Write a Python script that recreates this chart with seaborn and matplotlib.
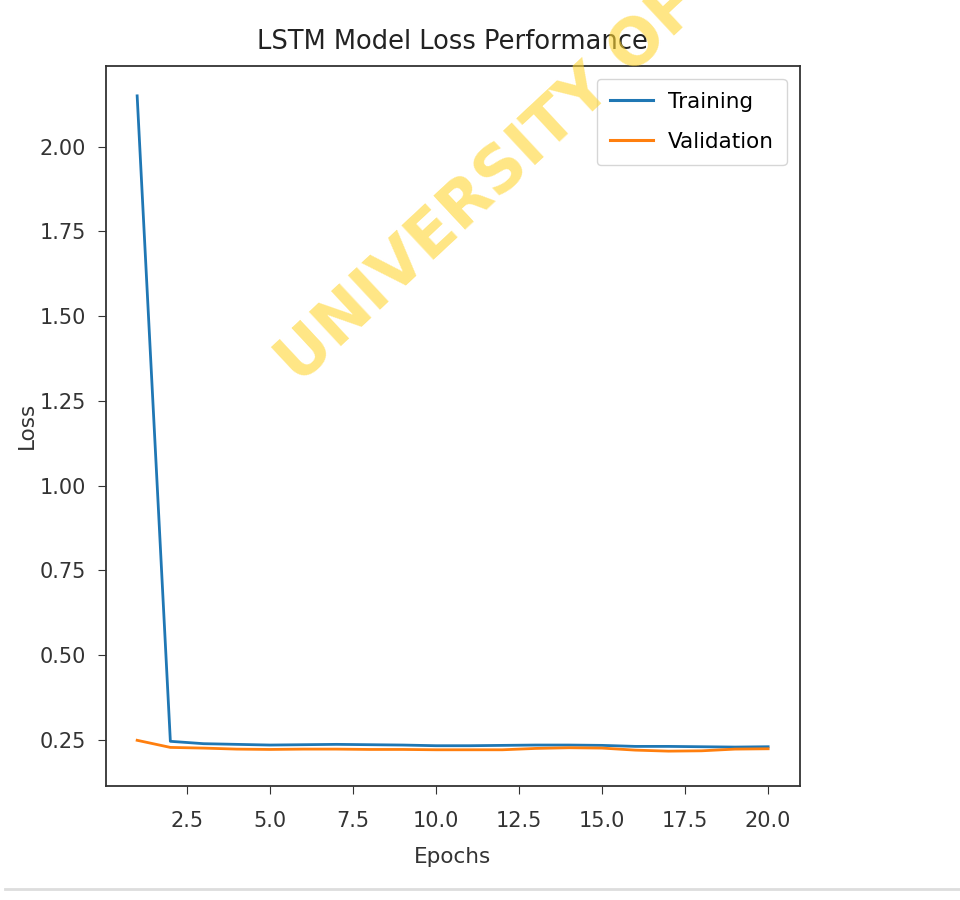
import numpy as np
import pandas as pd
import seaborn as sns
import matplotlib.pyplot as plt
from matplotlib.lines import Line2D


epochs = list(range(1, 21))
train_loss = [2.15, 0.245, 0.238, 0.236, 0.234, 0.235, 0.236, 0.235, 0.234, 0.232,
              0.232, 0.233, 0.234, 0.234, 0.233, 0.230, 0.230, 0.229, 0.228, 0.229]
val_loss = [0.248, 0.227, 0.225, 0.222, 0.221, 0.222, 0.222, 0.221, 0.221, 0.220,
            0.220, 0.220, 0.224, 0.226, 0.225, 0.219, 0.216, 0.217, 0.222, 0.223]
series_names = ['Training', 'Validation']

df = pd.DataFrame({
    'Epochs': epochs * 2,
    'Loss': train_loss + val_loss,
    'set': [series_names[0]] * 20 + [series_names[1]] * 20,
})

fig = plt.figure(figsize=(9.6, 9), dpi=100)
ax = fig.add_axes([0.110, 0.127, 0.723, 0.800])

sns.lineplot(data=df, x='Epochs', y='Loss', hue='set',
             palette=['#1f77b4', '#ff7f0e'], linewidth=2, ax=ax)

ax.set_title('LSTM Model Loss Performance', fontsize=18.5, color='#222222', pad=12)
ax.set_xlabel('Epochs', fontsize=15.5, color='#333333', labelpad=12)
ax.set_ylabel('Loss', fontsize=15.5, color='#333333', labelpad=2)
ax.tick_params(labelsize=15, colors='#333333', length=6)
ax.tick_params(axis='x', pad=12)
ax.tick_params(axis='y', pad=8)
ax.set_yticks([0.25, 0.5, 0.75, 1.0, 1.25, 1.5, 1.75, 2.0])
ax.set_ylim(0.114, 2.239)
for s in ax.spines.values():
    s.set_color('#333333')
    s.set_linewidth(1.3)

leg = ax.legend(loc='upper right', fontsize=15.5, frameon=True, handlelength=2,
                borderpad=0.6, labelspacing=0.95, handletextpad=0.7,
                borderaxespad=0.6)
leg.set_title(None)
for h in leg.get_lines():
    h.set_linewidth(2.2)

# watermark
fig.text(0.312, 0.572, 'UNIVERSITY OF IBADAN', fontsize=46, fontweight='bold',
         color='#ffd633', alpha=0.6, rotation=43, ha='left', va='baseline',
         rotation_mode='anchor')

# separator line at the bottom of the screenshot
fig.add_artist(Line2D([0.005, 1.0], [0.012, 0.012], color='#dddddd', linewidth=2))

fig.savefig('out.png', dpi=100)
